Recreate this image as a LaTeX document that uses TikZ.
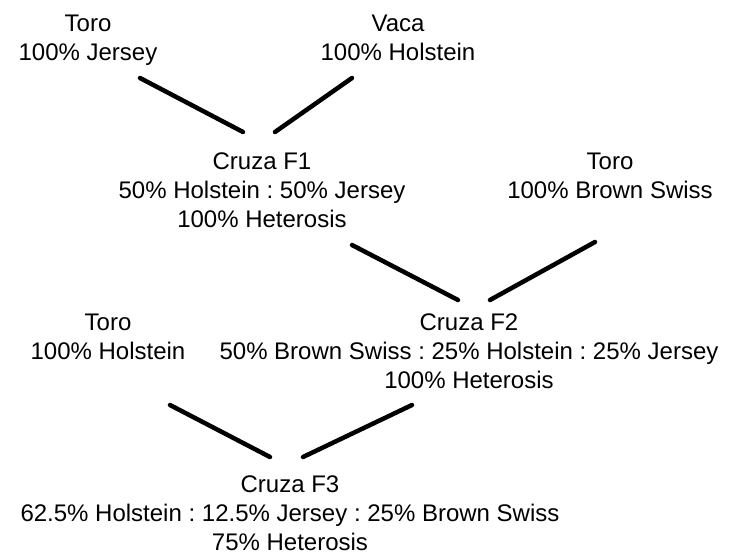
\documentclass[tikz,border=0pt]{standalone}
\usepackage{fontspec}
\setmainfont{Liberation Sans}
\usepackage{xcolor}

\begin{document}
\frenchspacing
\begin{tikzpicture}[x=1pt, y=-1pt,
    every node/.style={align=center, inner sep=0pt, anchor=north,
      font=\fontsize{24}{29}\selectfont},
    cruce/.style={line width=4.5pt, line cap=round}]
  \useasboundingbox (0,0) rectangle (733,557);
  % generacion 1
  \node (toroJ) at (88,15)  {Toro\\100\% Jersey};
  \node (vacaH) at (398,15) {Vaca\\100\% Holstein};
  \node (f1)    at (262,153) {Cruza F1\\50\% Holstein : 50\% Jersey\\100\% Heterosis};
  % generacion 2
  \node (toroB) at (610,153) {Toro\\100\% Brown Swiss};
  \node (f2)    at (469,314) {Cruza F2\\50\% Brown Swiss : 25\% Holstein : 25\% Jersey\\100\% Heterosis};
  % generacion 3
  \node (toroH) at (108,314) {Toro\\100\% Holstein};
  \node (f3)    at (290,476) {Cruza F3\\62.5\% Holstein : 12.5\% Jersey : 25\% Brown Swiss\\75\% Heterosis};
  % lineas
  \coordinate (a1) at (140,78);  \coordinate (a2) at (243,132);
  \coordinate (b1) at (352,78);  \coordinate (b2) at (275,132);
  \coordinate (c1) at (352,245); \coordinate (c2) at (458,300);
  \coordinate (d1) at (595,242); \coordinate (d2) at (490,300);
  \coordinate (e1) at (170,405); \coordinate (e2) at (270,457);
  \coordinate (g1) at (412,405); \coordinate (g2) at (303,457);
  \draw[cruce] (a1) -- (a2);
  \draw[cruce] (b1) -- (b2);
  \draw[cruce] (c1) -- (c2);
  \draw[cruce] (d1) -- (d2);
  \draw[cruce] (e1) -- (e2);
  \draw[cruce] (g1) -- (g2);
\end{tikzpicture}
\end{document}
